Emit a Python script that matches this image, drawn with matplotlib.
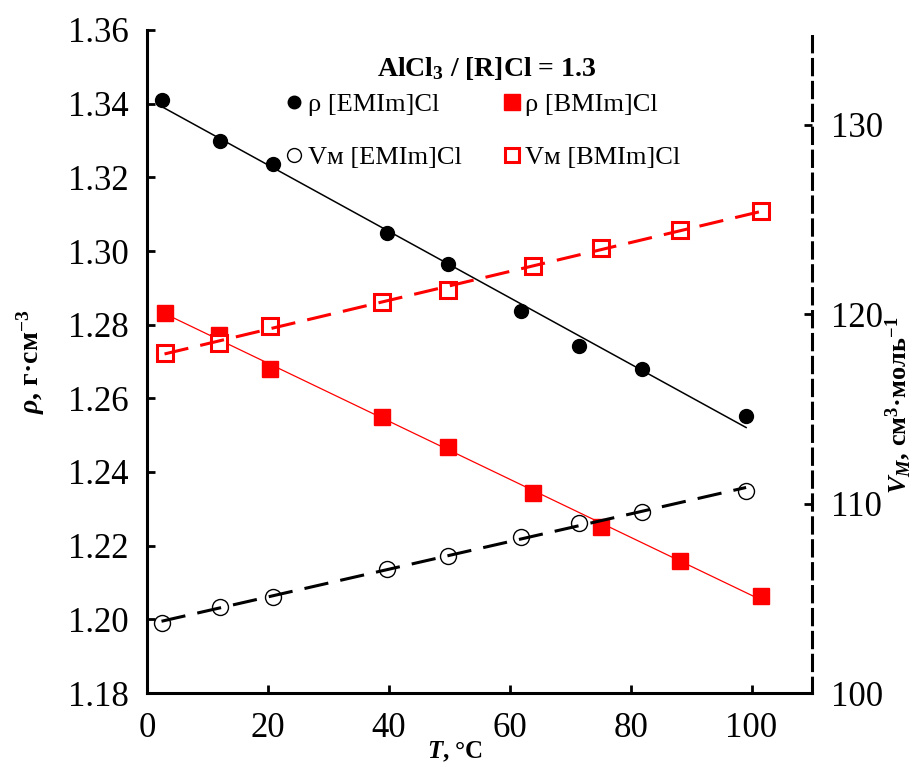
import numpy as np
import matplotlib
matplotlib.use("Agg")
import matplotlib.pyplot as plt
from matplotlib.lines import Line2D

plt.rcParams['font.family'] = ['Liberation Serif', 'DejaVu Serif']
plt.rcParams['mathtext.fontset'] = 'custom'
plt.rcParams['mathtext.rm'] = 'Liberation Serif'
plt.rcParams['mathtext.it'] = 'Liberation Serif:italic'
plt.rcParams['mathtext.bf'] = 'Liberation Serif:bold'
plt.rcParams['mathtext.bfit'] = 'Liberation Serif:italic:bold'

# density, g/cm3 (left axis)
t_rho_emim = [2.4, 12.1, 20.9, 39.7, 49.8, 61.8, 71.4, 81.9, 99.1]
rho_emim = [1.3410, 1.3299, 1.3235, 1.3048, 1.2965, 1.2838, 1.2742, 1.2679, 1.2552]
t_rho_bmim = [2.9, 11.9, 20.3, 38.8, 49.8, 63.8, 75.1, 88.1, 101.6]
rho_bmim = [1.2831, 1.2772, 1.2680, 1.2548, 1.2469, 1.2342, 1.2250, 1.2158, 1.2064]

# molar volume, cm3/mol (right axis)
t_vm_emim = t_rho_emim
vm_emim = [103.72, 104.53, 105.06, 106.56, 107.22, 108.23, 109.00, 109.57, 110.69]
t_vm_bmim = t_rho_bmim
vm_bmim = [117.97, 118.50, 119.35, 120.62, 121.28, 122.52, 123.47, 124.45, 125.43]

x_ticks = [0, 20, 40, 60, 80, 100]
left_ticks = [1.18, 1.20, 1.22, 1.24, 1.26, 1.28, 1.30, 1.32, 1.34, 1.36]
right_ticks = [100, 110, 120, 130]


def trend(ax, x, y, **kw):
    k, b = np.polyfit(x, y, 1)
    xx = np.array([min(x), max(x)])
    ax.plot(xx, k * xx + b, **kw)


fig = plt.figure(figsize=(9.15, 7.67), dpi=100)
ax = fig.add_axes([147 / 915, 1 - 693 / 767, 665 / 915, 663 / 767])
ax2 = ax.twinx()

RED = '#ff0000'
ax.plot(t_rho_emim, rho_emim, 'o', ms=10, color='black', zorder=3)
ax.plot(t_rho_bmim, rho_bmim, 's', ms=12, color=RED, mec=RED, zorder=3)
trend(ax, t_rho_emim, rho_emim, color='black', lw=1.1, zorder=4)
trend(ax, t_rho_bmim, rho_bmim, color=RED, lw=0.9, zorder=4)

ax2.plot(t_vm_emim, vm_emim, 'o', ms=11.5, mfc='white', mec='black', mew=1.0, zorder=3)
ax2.plot(t_vm_bmim, vm_bmim, 's', ms=11.5, mfc='white', mec=RED, mew=2.2, zorder=3)
trend(ax2, t_vm_emim, vm_emim, color='black', lw=2.2, ls=(0, (8, 4)), zorder=4)
trend(ax2, t_vm_bmim, vm_bmim, color=RED, lw=2.2, ls=(0, (8, 4)), zorder=4)

ax.set_xlim(0, 110)
ax.set_ylim(1.18, 1.36)
ax2.set_ylim(100, 135)
ax.set_xticks(x_ticks)
ax.set_yticks(left_ticks)
ax.set_yticklabels(['%.2f' % v for v in left_ticks])
ax2.set_yticks(right_ticks)

for a in (ax, ax2):
    a.spines['top'].set_visible(False)
ax.spines['right'].set_visible(False)
ax2.spines['left'].set_visible(False)
ax2.spines['bottom'].set_visible(False)
ax.spines['left'].set_linewidth(2.2)
ax.spines['bottom'].set_linewidth(2.2)
ax2.spines['right'].set_linewidth(2.2)
ax2.spines['right'].set_linestyle((0, (5, 2.5)))

ax.tick_params(axis='both', direction='in', length=6, width=2, labelsize=25)
ax.tick_params(axis='y', pad=13)
ax.tick_params(axis='x', pad=14)
ax2.tick_params(axis='y', direction='in', length=6, width=2, labelsize=25, pad=14)

ax.set_xlabel(r'$\mathbfit{T}$, °C', fontsize=18, fontweight='bold')
ax.xaxis.set_label_coords(0.463, -0.07)
ax.set_ylabel(r'$\mathbfit{\rho}$, г·см$^{\mathbf{-3}}$', fontsize=20, fontweight='bold')
ax.yaxis.set_label_coords(-0.15, 0.5)
fig.text(898 / 915, 1 - 405 / 767,
         r'$\mathbfit{V_М}$, см$^{\mathbf{3}}$·моль$^{\mathbf{-1}}$',
         fontsize=19, fontweight='bold', rotation=90, ha='center', va='center')

fig.text(487 / 915, 1 - 68 / 767, r'AlCl$_\mathbf{3}$ / [R]Cl = 1.3', fontsize=20,
         fontweight='bold', ha='center', va='center')

handles = [
    Line2D([], [], ls='none', marker='o', ms=9, color='black'),
    Line2D([], [], ls='none', marker='o', ms=10, mfc='white', mec='black', mew=1.0),
    Line2D([], [], ls='none', marker='s', ms=11, color=RED),
    Line2D([], [], ls='none', marker='s', ms=10, mfc='white', mec=RED, mew=2.2),
]
labels = ['ρ [EMIm]Cl', 'Vм [EMIm]Cl', 'ρ [BMIm]Cl', 'Vм [BMIm]Cl']
fig.legend(handles, labels, ncol=2, frameon=False, fontsize=19,
           loc='center', bbox_to_anchor=(482 / 915, 1 - 131 / 767),
           handletextpad=0.1, handlelength=0.8, columnspacing=1.5, labelspacing=1.1)

fig.savefig('out.png', dpi=100)
